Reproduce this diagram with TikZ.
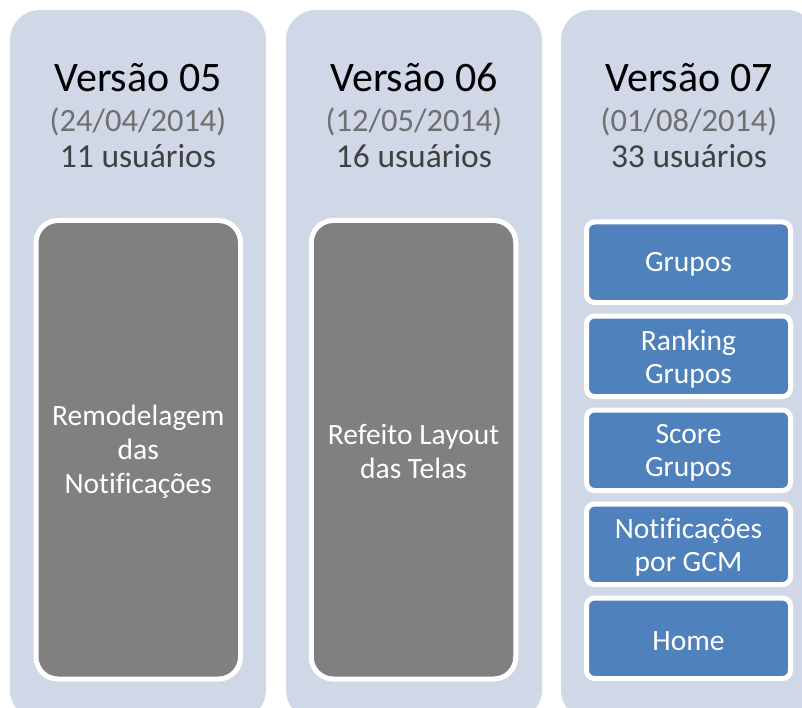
\documentclass[tikz,border=0pt]{standalone}
\usepackage{fontspec}
\setmainfont{Carlito}[Ligatures=CommonOff]
\definecolor{colfill}{HTML}{D0D8E8}
\definecolor{boxgray}{HTML}{808080}
\definecolor{boxblue}{HTML}{4F81BD}
\definecolor{datecol}{HTML}{6F6F6F}
\definecolor{usercol}{HTML}{404040}
\tikzset{
  column/.style={fill=colfill, draw=none, rounded corners=30pt, minimum width=256pt, minimum height=710pt, inner sep=0pt, outer sep=0pt},
  graybox/.style={fill=boxgray, draw=white, line width=5pt, rounded corners=22pt, minimum width=204.5pt, minimum height=458.5pt, inner sep=0pt, outer sep=0pt},
  bluebox/.style={fill=boxblue, draw=white, line width=5pt, rounded corners=8pt, minimum width=204pt, minimum height=80.5pt, inner sep=0pt, outer sep=0pt},
  boxtext/.style={text=white, align=center, font=\fontsize{29.5}{33}\selectfont, inner sep=0pt},
  title/.style={anchor=base, inner sep=0pt, font=\fontsize{42}{50}\selectfont},
  datetext/.style={anchor=base, inner sep=0pt, text=datecol, font=\fontsize{32.5}{38}\selectfont},
  usertext/.style={anchor=base, inner sep=0pt, text=usercol, font=\fontsize{33.5}{38}\selectfont},
}
\begin{document}
\begin{tikzpicture}[x=1pt, y=-1pt]
\useasboundingbox (0,0) rectangle (802,708);
\clip (0,0) rectangle (802,708);

% three version columns
\node[column] (c1) at (138,365) {};
\node[column] (c2) at (414,365) {};
\node[column] (c3) at (689,365) {};

% headings
\node[title] (t1) at (138,92) {Versão 05};
\node[datetext] (d1) at (138,132) {(24/04/2014)};
\node[usertext] (u1) at (138,167.5) {11 usuários};

\node[title] (t2) at (414,92) {Versão 06};
\node[datetext] (d2) at (414,132) {(12/05/2014)};
\node[usertext] (u2) at (414,167.5) {16 usuários};

\node[title] (t3) at (689,92) {Versão 07};
\node[datetext] (d3) at (689,132) {(01/08/2014)};
\node[usertext] (u3) at (689,167.5) {33 usuários};

% content of versions 05 and 06
\node[graybox] (g1) at (138.25,449.75) {};
\node[boxtext, font=\fontsize{29.5}{34}\selectfont] (g1t) at ([yshift=-2pt]g1.center) {Remodelagem\\das\\Notificações};
\node[graybox] (g2) at (413.5,449.75) {};
\node[boxtext, font=\fontsize{29.5}{34}\selectfont] (g2t) at ([yshift=-2pt]g2.center) {Refeito Layout\\das Telas};

% content of version 07
\node[bluebox] (b1) at (688.5,262.25) {};
\node[boxtext] (b1t) at ([yshift=-2.5pt]b1.center) {Grupos};
\node[bluebox] (b2) at (688.5,356.25) {};
\node[boxtext] (b2t) at ([yshift=-2.5pt]b2.center) {Ranking\\Grupos};
\node[bluebox] (b3) at (688.5,450.25) {};
\node[boxtext] (b3t) at ([yshift=-2.5pt]b3.center) {Score\\Grupos};
\node[bluebox] (b4) at (688.5,544.25) {};
\node[boxtext] (b4t) at ([yshift=-2.5pt]b4.center) {Notificações\\por GCM};
\node[bluebox] (b5) at (688.5,638.25) {};
\node[boxtext] (b5t) at ([yshift=-2.5pt]b5.center) {Home};
\end{tikzpicture}
\end{document}
